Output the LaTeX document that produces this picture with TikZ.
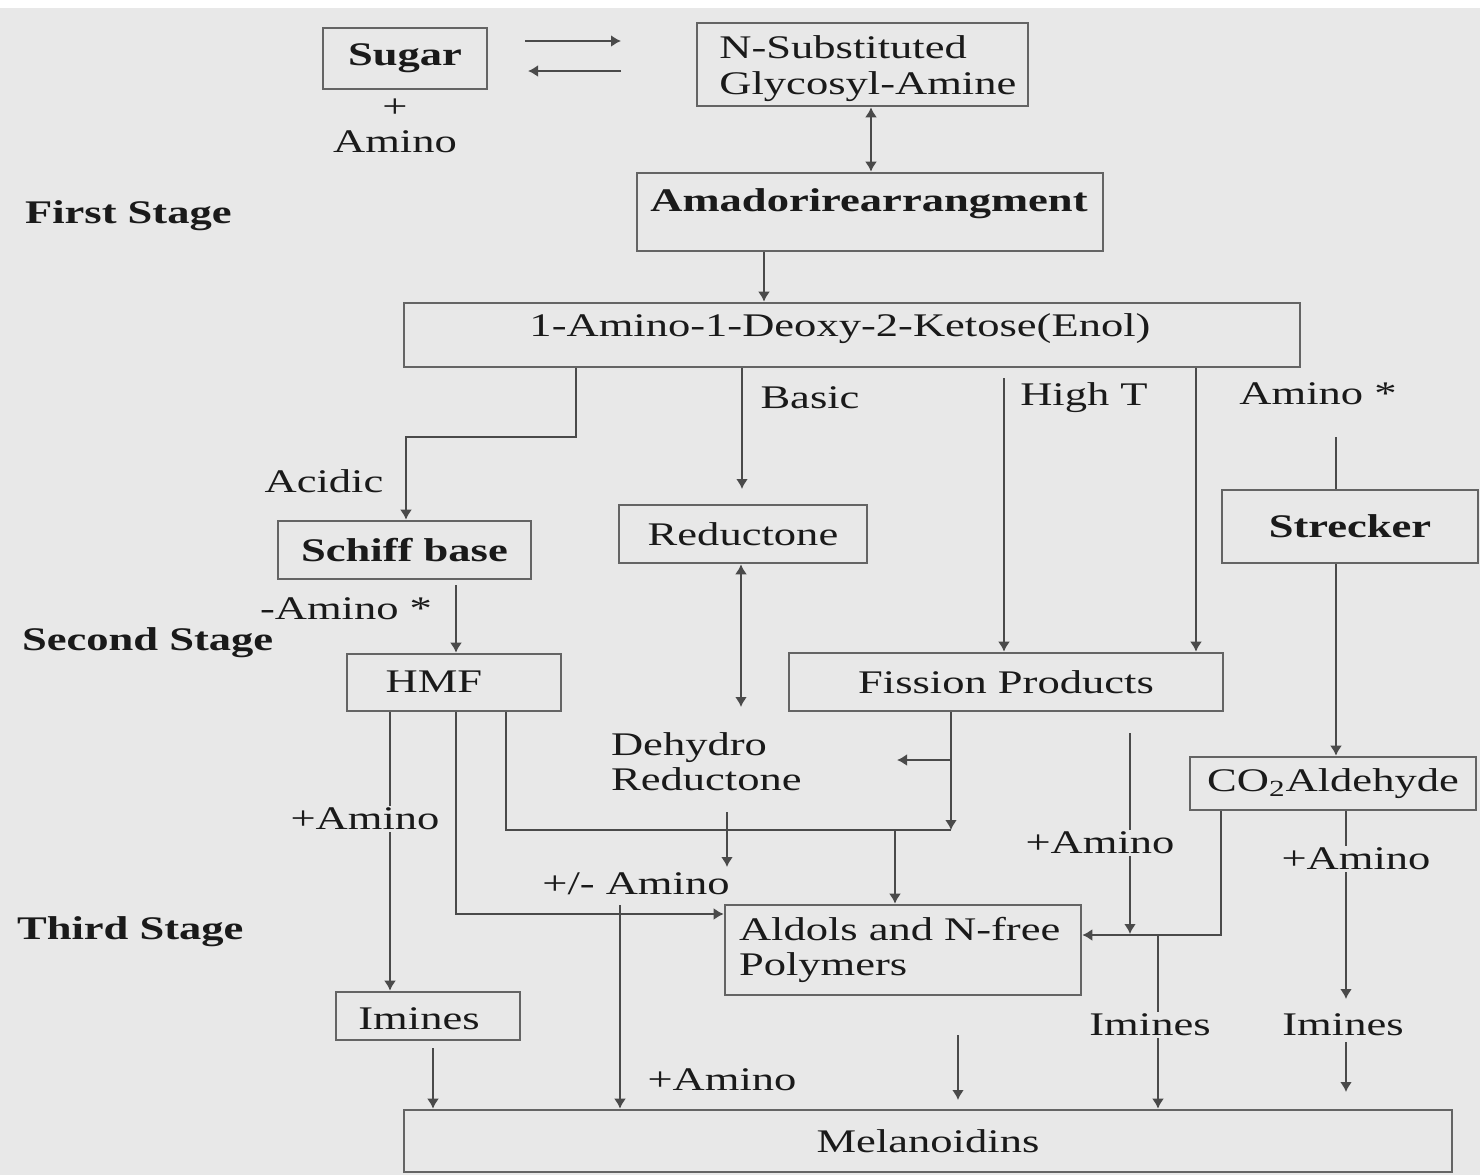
\documentclass[tikz,border=0pt]{standalone}
\usepackage{fontspec}
\setmainfont{Liberation Serif}[FakeStretch=1.35]
\usetikzlibrary{arrows.meta}
\definecolor{bg}{HTML}{E8E8E8}
\definecolor{lncol}{HTML}{4A4A4A}
\definecolor{bxcol}{HTML}{646464}
\definecolor{txcol}{HTML}{1A1A1A}
\begin{document}
\begin{tikzpicture}[x=0.5pt,y=-0.5pt,
  every node/.style={font=\fontsize{16.5}{17.5}\selectfont, text=txcol},
  box/.style={draw=bxcol, line width=1.3pt, inner sep=0pt},
  bf/.style={font=\fontsize{16.5}{17.5}\selectfont\bfseries},
  conn/.style={draw=lncol, line width=1.25pt},
  arr/.style={conn, -{Latex[length=5pt,width=6pt]}},
  dbl/.style={conn, {Latex[length=5pt,width=6pt]}-{Latex[length=5pt,width=6pt]}},
  lbl/.style={fill=bg, inner sep=1pt},
]
\useasboundingbox (0,0) rectangle (1480,1175);
\fill[white] (0,0) rectangle (1480,8);
\fill[bg] (0,8) rectangle (1480,1175);

% ---- boxes ----
\node[box,bf,minimum width=82pt,minimum height=30.5pt] (sugar) at (405,58.5) {Sugar};
\node (plus) at (395,108) {+};
\node (amino0) at (395,142) {Amino};
\node[box,minimum width=165.5pt,minimum height=41.5pt] (nsub) at (862.5,64.5) {};
\node[align=left,anchor=west,inner xsep=0pt,font=\fontsize{16.5}{18}\selectfont] (nsubtxt) at (719,69) {N-Substituted\\Glycosyl-Amine};
\node[box,minimum width=233pt,minimum height=39pt] (amadori) at (870,212) {};
\node[bf] (amadoritxt) at (869,204) {Amadorirearrangment};
\node[box,minimum width=448pt,minimum height=32pt] (ketose) at (852,335) {};
\node (ketosetxt) at (840,329) {1-Amino-1-Deoxy-2-Ketose(Enol)};
\node[box,bf,minimum width=126.5pt,minimum height=29pt] (schiff) at (404.5,550) {Schiff base};
\node[box,minimum width=124pt,minimum height=29pt] (reductone) at (743,534) {Reductone};
\node[box,bf,minimum width=128pt,minimum height=36.5pt] (strecker) at (1350,526.5) {Strecker};
\node[box,minimum width=107pt,minimum height=28.5pt] (hmf) at (454,682.5) {};
\node (hmftxt) at (434,682) {HMF};
\node[box,minimum width=217pt,minimum height=29pt] (fission) at (1006,682) {Fission Products};
\node[box,minimum width=143pt,minimum height=26.5pt] (co2) at (1333,783.5) {CO\textsubscript{2}Aldehyde};
\node[align=left,anchor=west] (dehydro) at (604,762) {Dehydro\\Reductone};
\node[box,minimum width=178pt,minimum height=45pt,align=left,text width=164pt,inner xsep=7pt] (aldols) at (903,950) {Aldols and N-free\\Polymers};
\node[box,minimum width=92pt,minimum height=24pt] (imines1) at (428,1016) {};
\node (imines1txt) at (419,1019) {Imines};
\node[box,minimum width=524pt,minimum height=31pt] (melan) at (928,1141) {Melanoidins};

% ---- stage labels ----
\node[bf,anchor=west] (stage1) at (18,216) {First Stage};
\node[bf,anchor=west] (stage2) at (15,643) {Second Stage};
\node[bf,anchor=west] (stage3) at (10,932) {Third Stage};

% ---- free coordinates ----
\coordinate (a1s) at (525,41);  \coordinate (a1e) at (621,41);
\coordinate (a2s) at (621,71);  \coordinate (a2e) at (528,71);
\coordinate (acbend) at (406,437);
\coordinate (basice) at (742,489);
\coordinate (hts) at (1004,378);
\coordinate (ams) at (1336,437);
\coordinate (sbs) at (456,585);
\coordinate (rde) at (741,707);
\coordinate (j1) at (951,830);
\coordinate (br) at (951,760);   \coordinate (bre) at (897,760);
\coordinate (j2) at (895,830);
\coordinate (d1) at (727,812);   \coordinate (d2) at (727,867);
\coordinate (p1) at (620,905);
\coordinate (i1) at (433,1048);
\coordinate (a3) at (958,1035);  \coordinate (a3e) at (958,1100);
\coordinate (f2) at (1130,733);  \coordinate (f2e) at (1130,934);
\coordinate (j4) at (1158,935);
\coordinate (c2) at (1346,999);
\coordinate (c3) at (1346,1042); \coordinate (c4) at (1346,1092);

% ---- connectors ----
\draw[arr] (a1s) -- (a1e);
\draw[arr] (a2s) -- (a2e);
\draw[dbl] (nsub.south -| 871,0) -- (amadori.north -| 871,0);
\draw[arr] (amadori.south -| 764,0) -- (ketose.north -| 764,0);
\draw[arr] (ketose.south -| 576,0) |- (acbend) -- (schiff.north -| 406,0);
\draw[arr] (ketose.south -| 742,0) -- (basice);
\draw[arr] (hts) -- (fission.north -| 1004,0);
\draw[arr] (ketose.south -| 1196,0) -- (fission.north -| 1196,0);
\draw[conn] (ams) -- (strecker.north -| 1336,0);
\draw[arr] (strecker.south -| 1336,0) -- (co2.north -| 1336,0);
\draw[arr] (sbs) -- (hmf.north -| 456,0);
\draw[dbl] (reductone.south -| 741,0) -- (rde);
\draw[arr] (fission.south -| 951,0) -- (j1);
\draw[arr] (br) -- (bre);
\draw[conn] (hmf.south -| 506,0) |- (j1);
\draw[arr] (j2) -- (aldols.north -| 895,0);
\draw[arr] (d1) -- (d2);
\draw[arr] (hmf.south -| 456,0) |- (aldols.west |- 0,914);
\draw[arr] (hmf.south -| 390,0) -- (imines1.north -| 390,0);
\draw[arr] (p1) -- (melan.north -| 620,0);
\draw[arr] (i1) -- (melan.north -| 433,0);
\draw[arr] (a3) -- (a3e);
\draw[arr] (f2) -- (f2e);
\draw[arr] (co2.south -| 1221,0) |- (aldols.east |- 0,935);
\draw[arr] (j4) -- (melan.north -| 1158,0);
\draw[arr] (co2.south -| 1346,0) -- (c2);
\draw[arr] (c3) -- (c4);

% ---- labels ----
\node (acidic) at (324,481) {Acidic};
\node (basic) at (810,398) {Basic};
\node (hight) at (1084,398) {High T};
\node (aminostar) at (1318,394) {Amino *};
\node (minusamino) at (346,609) {-Amino *};
\node[lbl] (plusamino1) at (365,819) {+Amino};
\node (pmamino) at (636,884) {+/- Amino};
\node (plusamino2) at (722,1080) {+Amino};
\node[lbl] (plusamino3) at (1100,843) {+Amino};
\node[lbl] (plusamino4) at (1356,859) {+Amino};
\node[lbl] (imines2) at (1150,1025) {Imines};
\node (imines3) at (1343,1025) {Imines};
\end{tikzpicture}
\end{document}
